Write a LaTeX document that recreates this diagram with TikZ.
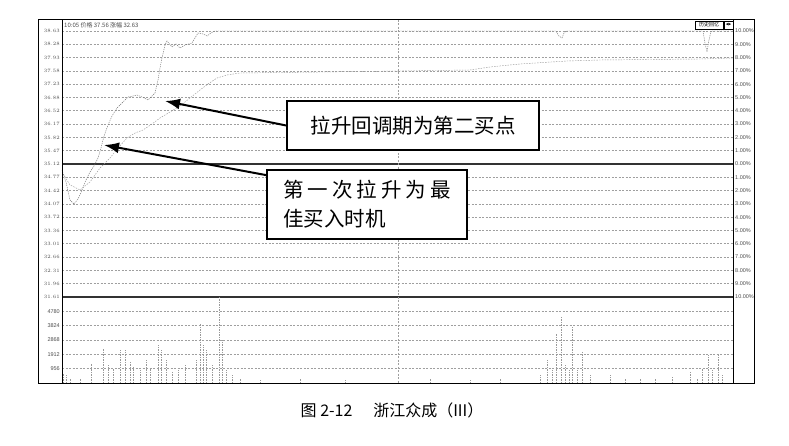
\documentclass[tikz,border=0pt]{standalone}
\usepackage{fontspec}
\setmainfont{Liberation Serif}
\newfontfamily\cjk{Noto Sans CJK SC}
\newfontfamily\symfont{DejaVu Sans}
\newfontfamily\axisfont{Liberation Sans}
\usetikzlibrary{arrows.meta}
\tikzset{
  gridline/.style={gray!75, dash pattern=on 2pt off 1.5pt, line width=0.6pt},
  axislab/.style={font=\axisfont\fontsize{5.5}{6}\selectfont, text=black!70, inner sep=0pt},
  callout/.style={draw, line width=1.8pt, fill=white, font=\cjk\fontsize{20.5}{29}\selectfont},
  pointer/.style={line width=2pt, -{Latex[length=15pt,width=11pt]}},
  volbar/.style={gray!80, dash pattern=on 1.5pt off 1pt, line width=0.5pt},
  priceline/.style={black!55, line width=0.45pt, dash pattern=on 1.2pt off 1pt},
  avgline/.style={black!40, line width=0.45pt, dash pattern=on 1.5pt off 1.2pt},
}
\begin{document}
\begin{tikzpicture}[x=1pt,y=-1pt]
\useasboundingbox (0,0) rectangle (789,446);

\foreach \k in {0,...,20}{
  \pgfmathsetmacro\yy{31+13.3*\k}
  \draw[gridline] (62,\yy) -- (733,\yy);
  \pgfmathsetmacro\pr{35.12+(10-\k)*0.3512}
  \pgfmathtruncatemacro\pc{abs(10-\k)}
  \node[axislab, anchor=east] (p\k) at (60,\yy) {\pgfmathprintnumber[fixed,fixed zerofill,precision=2]{\pr}};
  \node[axislab, anchor=west] (r\k) at (735,\yy) {\pc.00\%};
};
\foreach \k in {1,...,5}{
  \pgfmathtruncatemacro\vv{956*(6-\k)}
  \draw[gridline] (62,{297+14.3*\k}) -- (733,{297+14.3*\k});
  \node[axislab, anchor=east] (v\k) at (60,{297+14.3*\k}) {\vv};
};
\draw[black!80, line width=1.1pt] (62,164) -- (733,164);
\draw[black!80, line width=1.1pt] (62,297) -- (733,297);
\draw[gridline] (398,20) -- (398,383);

\foreach \x/\t in {63/373,66/375,70/378,80/378,91/363,103/348,108/365,113/368,120/350,125/350,130/362,133/366,140/370,146/360,150/368,158/345,161/350,166/360,172/372,178/370,185/365,196/360,200/323,203/345,206/350,212/365,219/297,222/340,226/370,232/375,240/378,260/380,300/378,345/380,430/378,470/380,500/378,540/375,547/360,552/370,556/333,561/317,565/365,569/370,572/327,577/370,582/352,590/375,610/375,625/378,640/378,655/378,672/377,690/372,697/378,702/368,708/355,712/370,718/355,722/375}{
  \draw[volbar] (\x,383) -- (\x,\t);
};

\draw[avgline] (62,172) -- (70,185) -- (80,190) -- (90,182) -- (100,168) -- (110,158) -- (118,148) -- (127,138) -- (135,133) -- (143,130) -- (152,124) -- (160,118) -- (170,112) -- (180,106) -- (190,98) -- (200,90) -- (208,84) -- (217,78) -- (227,75) -- (240,73) -- (400,71) -- (470,70) -- (490,67) -- (520,64) -- (567,61) -- (600,60) -- (700,59) -- (733,58);
\draw[priceline] (62,170) -- (66,182) -- (70,200) -- (74,204) -- (78,199) -- (82,190) -- (86,180) -- (90,172) -- (94,166) -- (98,158) -- (101,148) -- (104,136) -- (108,125) -- (112,116) -- (117,108) -- (122,103) -- (128,97) -- (133,96) -- (137,95) -- (142,97) -- (148,100) -- (152,96) -- (155,93) -- (158,80) -- (160,68) -- (162,58) -- (165,45) -- (167,41) -- (172,47) -- (176,44) -- (180,48) -- (185,45) -- (192,43) -- (195,38) -- (198,33) -- (203,34) -- (207,36) -- (211,33) -- (215,31) -- (556,31) -- (559,36) -- (562,38) -- (564,33) -- (566,31) -- (703,31) -- (705,43) -- (707,52) -- (709,40) -- (711,31) -- (733,31);

\draw[line width=1pt] (38,20) rectangle (754,383);
\draw[line width=0.8pt] (62,20) -- (62,383);
\draw[line width=0.8pt] (733,20) -- (733,383);

\node[anchor=west, inner sep=0pt, font=\cjk\fontsize{6}{6}\selectfont, text=black!70] (ttl) at (64,25) {10:05 价格 37.56 涨幅 32.63};
\node[draw, line width=0.8pt, fill=white, inner sep=0pt, minimum width=28pt, minimum height=8pt, font=\cjk\fontsize{5}{5}\selectfont] (hist) at (709,25) {历史回忆};
\node[draw, line width=0.8pt, fill=white, inner sep=0pt, minimum width=9pt, minimum height=8pt, font=\symfont\fontsize{3.5}{4}\selectfont] (nav) at (728.5,25) {◀▶};

\node[callout, minimum width=252pt, minimum height=49pt] (pull) at (413,125.5) {拉升回调期为第二买点};
\node[callout, minimum width=200pt, minimum height=69pt, align=left] (first) at (367,204.5) {\makebox[168pt][s]{第 一 次 拉 升 为 最}\\佳买入时机};
\coordinate (tippull) at (165,101);
\coordinate (tipfirst) at (104,145);
\draw[pointer] (pull.west) -- (tippull);
\draw[pointer] ([yshift=-6pt]first.north west) -- (tipfirst);

\node[font=\cjk\fontsize{16}{18}\selectfont] (cap) at (392,410) {图 2-12\hspace{1.3em}浙江众成（III）};
\end{tikzpicture}
\end{document}
